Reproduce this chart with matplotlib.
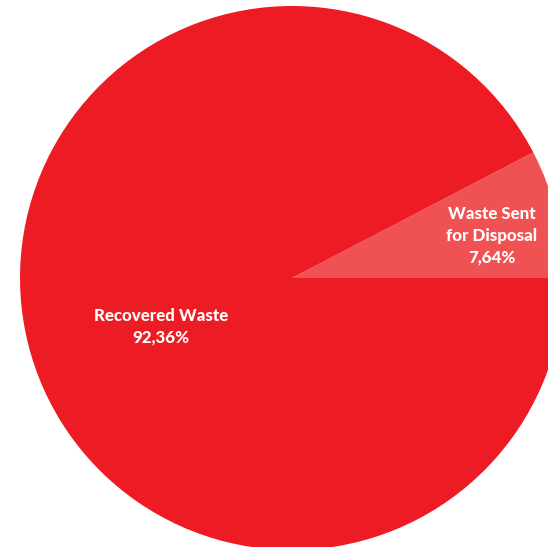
import matplotlib
matplotlib.use("Agg")
import matplotlib.pyplot as plt

categories = ["Recovered Waste", "Waste Sent\nfor Disposal"]
values = [92.36, 7.64]
value_labels = ["92,36%", "7,64%"]
colors = ["#ED1C24", "#F05152"]

W, H = 548, 547
fig = plt.figure(figsize=(W / 100, H / 100), dpi=100)
ax = fig.add_axes([0, 0, 1, 1])

cx, cy, r = 292, 278, 272
# small slice starts at 3 o'clock and runs counterclockwise on screen
ax.pie([values[1], values[0]], colors=[colors[1], colors[0]],
       startangle=0, counterclock=False, center=(cx, cy), radius=r,
       wedgeprops=dict(linewidth=0), frame=True)
ax.set_xlim(0, W)
ax.set_ylim(H, 0)
ax.set_aspect("equal")
ax.axis("off")

font = dict(family=["Lato", "DejaVu Sans"], weight="black", color="white",
            ha="center", va="center", linespacing=1.45)
ax.text(161, 327, f"{categories[0]}\n{value_labels[0]}", fontsize=12.2, **font)
ax.text(492, 236, f"{categories[1]}\n{value_labels[1]}", fontsize=12.2, **font)

fig.savefig("out.png", dpi=100)
